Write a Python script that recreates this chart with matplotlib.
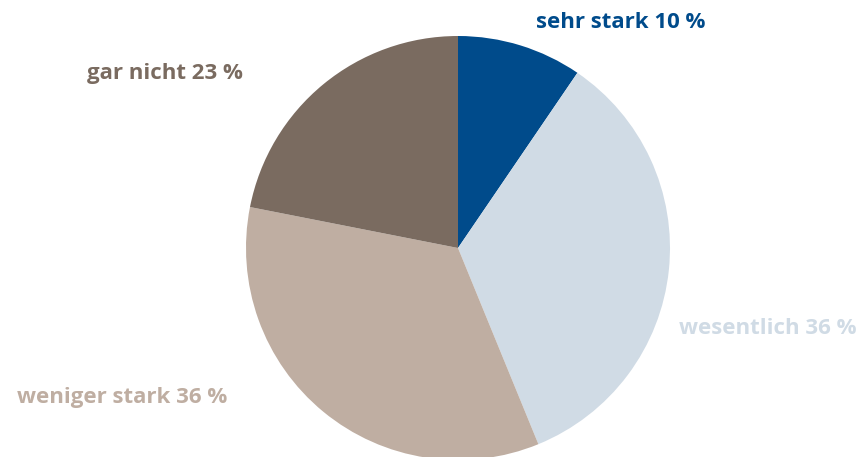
import matplotlib.pyplot as plt

labels = ['sehr stark', 'wesentlich', 'weniger stark', 'gar nicht']
values = [10, 36, 36, 23]
colors = ['#004b8b', '#d0dbe5', '#bfaea2', '#7a6b60']
# where each label sits (pixel coords, y from bottom)
label_pos = [(536, 435), (679, 129), (17, 59), (87, 384)]

fig = plt.figure(figsize=(8.57, 4.57), dpi=100)
ax = fig.add_axes([0, 0, 1, 1])

ax.pie(values, colors=colors, startangle=90, counterclock=False,
       center=(458, 209), radius=212, frame=True,
       wedgeprops=dict(linewidth=0))
ax.set_xlim(0, 857)
ax.set_ylim(0, 457)
ax.set_aspect('equal')
ax.axis('off')

for name, v, c, (x, y) in zip(labels, values, colors, label_pos):
    ax.text(x, y, f'{name} {v} %', color=c, fontsize=16, fontweight='bold',
            family='Open Sans', ha='left', va='center')

fig.savefig('out.png')
